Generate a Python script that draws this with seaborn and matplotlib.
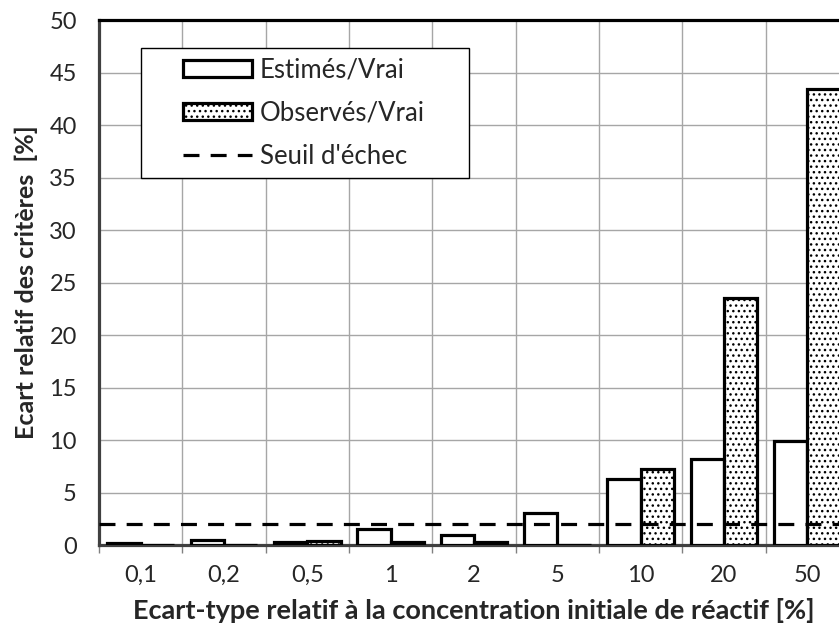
import matplotlib
matplotlib.use("Agg")
import matplotlib.pyplot as plt
from matplotlib.lines import Line2D
from matplotlib.patches import Patch, Rectangle
import pandas as pd
import seaborn as sns

# ── data ────────────────────────────────────────────────────────────────────
categories = ["0,1", "0,2", "0,5", "1", "2", "5", "10", "20", "50"]
estimes    = [0.15, 0.5, 0.25, 1.5, 1.0, 3.05, 6.25, 8.2, 9.95]
observes   = [0.05, 0.0, 0.4, 0.25, 0.25, 0.0, 7.2, 23.5, 43.4]
seuil      = 2.0
series     = ["Estimés/Vrai", "Observés/Vrai"]

df = pd.DataFrame({
    "cat": categories * 2,
    "val": estimes + observes,
    "serie": [series[0]] * len(categories) + [series[1]] * len(categories),
})

sns.set_style("white")
plt.rcParams["font.family"] = ["Lato", "DejaVu Sans"]
plt.rcParams["hatch.linewidth"] = 1.0

fig = plt.figure(figsize=(8.39, 6.39), dpi=100)
# axes runs past the right edge, as in the cropped original
ax = fig.add_axes([0.118, 0.147, 0.894, 0.8216])

sns.barplot(data=df, x="cat", y="val", hue="serie", order=categories,
            hue_order=series, palette=["white", "white"], width=0.8,
            edgecolor="black", linewidth=2.3, saturation=1, legend=False, ax=ax)

n = len(categories)
for i, p in enumerate(ax.patches[:2 * n]):
    if i >= n:
        p.set_hatch("...")
    p.set_zorder(3)

ax.axhline(seuil, color="black", linewidth=2.3, dashes=(5, 3.5), zorder=4)

ax.set_ylim(0, 50)
ax.set_xlim(-0.5, n - 0.5)
ax.set_yticks(range(0, 51, 5))
ax.set_xticks([x + 0.5 for x in range(-1, n)], minor=True)
ax.grid(which="major", axis="y", color="#a6a6a6", linewidth=1.0, zorder=0)
ax.grid(which="minor", axis="x", color="#a6a6a6", linewidth=1.0, zorder=0)
ax.set_axisbelow(True)
ax.tick_params(axis="x", which="major", length=0, labelsize=17, pad=14)
ax.tick_params(axis="x", which="minor", length=6, width=1, color="#808080",
               direction="out", bottom=True)
ax.tick_params(axis="y", length=0, labelsize=17, pad=16)

for s in ["left", "bottom"]:
    ax.spines[s].set_color("#404040")
    ax.spines[s].set_linewidth(2.3)
ax.spines["top"].set_color("black")
ax.spines["top"].set_linewidth(2.3)
ax.spines["right"].set_visible(False)

ax.set_xlabel("Ecart-type relatif à la concentration initiale de réactif [%]",
              fontsize=19.5, fontweight="bold", labelpad=9)
ax.set_ylabel("Ecart relatif des critères  [%]", fontsize=18,
              fontweight="bold", labelpad=8)

# legend: frame drawn separately (the original has a wide left margin)
ax.add_patch(Rectangle((0.056, 0.699), 0.4373, 0.2476, transform=ax.transAxes,
                       facecolor="white", edgecolor="black", linewidth=1.0,
                       zorder=5))
handles = [
    Patch(facecolor="white", edgecolor="black", linewidth=2.3),
    Patch(facecolor="white", edgecolor="black", linewidth=2.3, hatch="..."),
    Line2D([0], [0], color="black", linewidth=2.3, dashes=(5, 3.5)),
]
leg = ax.legend(handles, series + ["Seuil d'échec"], loc="upper left",
                bbox_to_anchor=(0.112, 0.928), fontsize=18.5, frameon=False,
                handlelength=2.7, handleheight=0.62, handletextpad=0.3,
                borderpad=0, labelspacing=0.7, borderaxespad=0)
leg.set_zorder(6)

fig.savefig("out.png", dpi=100)
